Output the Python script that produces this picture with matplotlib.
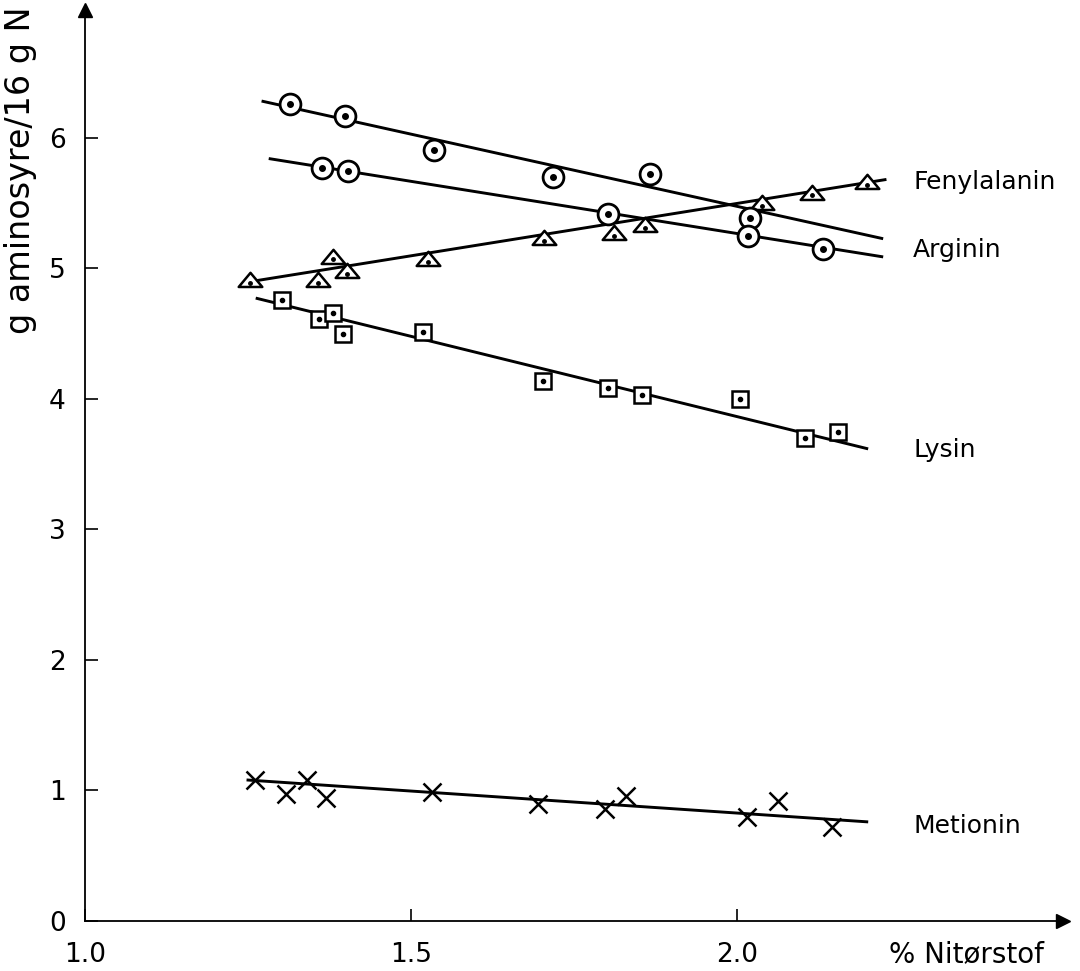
import numpy as np
import matplotlib.pyplot as plt
from matplotlib.path import Path

# data (% N i tørstof vs g aminosyre / 16 g N)
fen_x = [1.253, 1.357, 1.380, 1.402, 1.526, 1.704, 1.811, 1.859, 2.038, 2.115, 2.199]
fen_y = [4.91, 4.91, 5.09, 4.98, 5.07, 5.23, 5.27, 5.33, 5.50, 5.58, 5.66]
fen_line_x = [1.255, 2.227]
fen_line_y = [4.90, 5.68]

circ1_x = [1.314, 1.399, 1.535, 1.718, 1.867, 2.020]
circ1_y = [6.26, 6.17, 5.91, 5.70, 5.72, 5.39]
circ1_line_x = [1.273, 2.222]
circ1_line_y = [6.28, 5.23]

arg_x = [1.363, 1.403, 1.802, 2.017, 2.132]
arg_y = [5.77, 5.75, 5.42, 5.25, 5.15]
arg_line_x = [1.284, 2.222]
arg_line_y = [5.84, 5.09]

lys_x = [1.302, 1.359, 1.380, 1.396, 1.518, 1.702, 1.802, 1.854, 2.005, 2.104, 2.155]
lys_y = [4.76, 4.61, 4.66, 4.50, 4.51, 4.14, 4.08, 4.03, 4.00, 3.70, 3.75]
lys_line_x = [1.264, 2.199]
lys_line_y = [4.77, 3.62]

met_x = [1.261, 1.308, 1.340, 1.370, 1.532, 1.695, 1.798, 1.830, 2.015, 2.063, 2.146]
met_y = [1.08, 0.97, 1.08, 0.94, 0.99, 0.90, 0.86, 0.96, 0.80, 0.92, 0.72]
met_line_x = [1.250, 2.199]
met_line_y = [1.08, 0.76]

names = ["Fenylalanin", "Arginin", "Lysin", "Metionin"]
names_y = [5.66, 5.14, 3.61, 0.73]

FS = 19
plt.rcParams['font.family'] = ['DejaVu Sans']

fig = plt.figure(figsize=(10.8, 9.71), dpi=100)
ax = fig.add_axes([85 / 1080, 50 / 971, 978 / 1080, 911 / 971])
ax.set_xlim(1.0, 2.5)
ax.set_ylim(0, 6.98)

for s in ['top', 'right']:
    ax.spines[s].set_visible(False)
for s in ['left', 'bottom']:
    ax.spines[s].set_linewidth(1.3)

# axis arrows
ax.plot(1, 0, marker='>', color='k', ms=10, transform=ax.transAxes, clip_on=False)
ax.plot(0, 1, marker='^', color='k', ms=10, transform=ax.transAxes, clip_on=False)

ax.set_xticks([1.0, 1.5, 2.0])
ax.set_xticklabels(["1.0", "1.5", "2.0"])
ax.set_yticks(range(7))
ax.tick_params(direction='in', length=9, width=1.2, labelsize=FS)
ax.tick_params(axis='x', pad=15)
ax.tick_params(axis='y', pad=14)

lw = 2.1
# trend lines
for lx, ly in [(fen_line_x, fen_line_y), (circ1_line_x, circ1_line_y),
               (arg_line_x, arg_line_y), (lys_line_x, lys_line_y),
               (met_line_x, met_line_y)]:
    ax.plot(lx, ly, color='k', lw=lw, zorder=2)

# flat triangle marker
tri = Path([(-1, -0.55), (1, -0.55), (0, 0.65), (-1, -0.55)],
           [Path.MOVETO, Path.LINETO, Path.LINETO, Path.CLOSEPOLY])

ax.plot(fen_x, fen_y, ls='none', marker=tri, ms=17, mfc='white', mec='k', mew=1.8, zorder=3)
ax.plot(fen_x, np.array(fen_y) - 0.02, ls='none', marker='o', ms=2.5, color='k', zorder=4)

for cx, cy in [(circ1_x, circ1_y), (arg_x, arg_y)]:
    ax.plot(cx, cy, ls='none', marker='o', ms=15, mfc='white', mec='k', mew=2.0, zorder=3)
    ax.plot(cx, cy, ls='none', marker='o', ms=4, color='k', zorder=4)

ax.plot(lys_x, lys_y, ls='none', marker='s', ms=12, mfc='white', mec='k', mew=1.8, zorder=3)
ax.plot(lys_x, lys_y, ls='none', marker='o', ms=3, color='k', zorder=4)

ax.plot(met_x, met_y, ls='none', marker='x', ms=13, color='k', mew=1.8, zorder=3)

for n, ny in zip(names, names_y):
    ax.text(2.27, ny, n, fontsize=18, ha='left', va='center')

fig.text(966 / 1080, 1 - 954 / 971, "% Nitørstof", fontsize=20, ha='center', va='center')
fig.text(21 / 1080, 1 - 6 / 971, "g aminosyre/16 g N", fontsize=24, rotation=90,
         ha='center', va='top')

fig.savefig("out.png", dpi=100)
